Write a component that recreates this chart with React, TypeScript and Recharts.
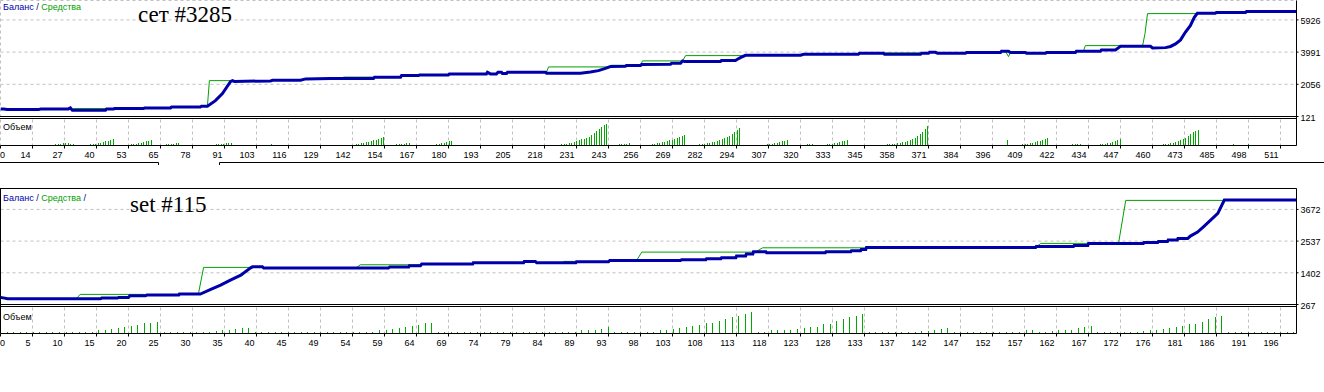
import { LineChart, Line, BarChart, Bar, XAxis, YAxis, CartesianGrid } from 'recharts';

// ---------- сет #3285 (top report) ----------
const topXLabels = ['0', '14', '27', '40', '53', '65', '78', '91', '103', '116', '129', '142', '154', '167', '180', '193', '205', '218', '231', '243', '256', '269', '282', '294', '307', '320', '333', '345', '358', '371', '384', '396', '409', '422', '434', '447', '460', '473', '485', '498', '511'];
const topYTicks = [121, 2056, 3991, 5926];

// [trade #, balance]
const topBalance: [number, number][] = [
  [0, 577], [1.2, 565], [2.8, 535], [15.2, 535], [16, 565], [27.1, 577], [27.9, 637], [28.7, 493],
  [41.9, 493], [42.3, 565], [45.1, 565], [45.5, 595], [57.1, 595], [57.5, 637], [67.9, 637], [68.3, 697],
  [79.8, 697], [80.2, 733], [82.6, 733], [85.8, 1076], [88.6, 1497], [91.8, 2218], [92.6, 2276], [93.4, 2230],
  [107.8, 2260], [108.6, 2296], [119.8, 2296], [121.8, 2380], [131.7, 2400], [148.9, 2400], [149.3, 2476],
  [159.7, 2476], [160.1, 2578], [166.9, 2578], [167.3, 2620], [178.8, 2620], [179.2, 2681], [194, 2681],
  [194.4, 2777], [195.6, 2681], [198, 2681], [198.6, 2777], [200, 2777], [200.4, 2699], [202, 2699],
  [202.4, 2777], [217.6, 2777], [218, 2717], [231.5, 2717], [235.5, 2790], [238.7, 2879], [241.5, 3017],
  [243.5, 3119], [249.5, 3137], [249.9, 3179], [255.5, 3179], [255.9, 3239], [267.5, 3257], [267.9, 3318],
  [271.5, 3318], [272.3, 3462], [273.1, 3420], [287.4, 3420], [287.8, 3480], [293.4, 3480], [294.2, 3558],
  [295.4, 3660], [297.4, 3799], [319.4, 3799], [320.6, 3859], [342.5, 3859], [342.9, 3919], [352.5, 3919],
  [352.9, 3859], [367.3, 3859], [367.7, 3919], [370.5, 3919], [370.9, 3979], [373.3, 3979], [374.1, 3919],
  [385.2, 3919], [385.6, 3961], [399.2, 3961], [399.6, 4039], [402.4, 4039], [403.2, 3961], [409.2, 3961],
  [409.6, 3919], [417.2, 3919], [417.6, 3961], [429.1, 3961], [429.5, 4039], [439.1, 4039], [439.5, 4123],
  [445.1, 4123], [445.9, 4201], [447.1, 4339], [459.1, 4339], [459.9, 4243], [465.1, 4260], [467.1, 4330],
  [469.1, 4483], [471.1, 4724], [473, 5181], [475, 5583], [476.6, 6082], [477.8, 6323], [485, 6323],
  [485.4, 6365], [497, 6365], [497.4, 6425], [517.4, 6425],
];

// equity, only where it leaves the balance line
const topEquity: [number, number][][] = [
  [[28.7, 493], [29.1, 595], [41.9, 595], [42.3, 565]],
  [[48.7, 595], [49.1, 655], [57.1, 655], [57.5, 637]],
  [[82.6, 733], [83.4, 2276], [92.6, 2276]],
  [[136.5, 2400], [136.9, 2490], [148.9, 2490], [149.3, 2476]],
  [[217.8, 2717], [218.8, 3101], [243, 3101]],
  [[243.5, 3119], [243.9, 3200], [249.5, 3200], [249.9, 3179]],
  [[255.5, 3179], [256.3, 3462], [272.3, 3462], [273.5, 3780], [296, 3780], [297, 3799]],
  [[352.5, 3919], [352.9, 3943], [367.3, 3943], [367.7, 3919]],
  [[401.2, 4039], [402.4, 3720], [403.2, 3961]],
  [[432.3, 4039], [433.1, 4381], [446.7, 4381], [447.1, 4339]],
  [[455.9, 4339], [456.9, 5100], [457.9, 6305], [477.8, 6305], [478.2, 6323]],
];

// [first trade #, volumes...]
const topVolume: [number, number[]][] = [
  [19, [1]],
  [22, [2, 2, 2, 3, 3, 3, 2, 2]],
  [33, [1, 1, 1, 2, 2, 2, 3, 3, 4, 5, 5, 6, 7]],
  [49, [1, 1, 1, 2, 2, 2, 3, 3, 4, 5, 5, 6]],
  [64, [1, 1, 2, 2, 2, 2, 3, 3]],
  [80, [1]], [82, [1]],
  [85, [1, 2, 2, 2, 2, 3, 3, 3]],
  [102, [1]], [107, [1, 2]], [110, [1]], [113, [1]], [116, [1]], [120, [1]],
  [140, [1, 1, 2, 2, 3, 3, 4, 4, 5, 6, 6, 7, 8, 9]],
  [156, [1, 1, 2, 2, 2, 2, 3, 3]],
  [166, [1]], [168, [1]],
  [170, [1, 1, 1, 1, 2, 2, 3, 3, 4, 5, 5]],
  [183, [1]], [185, [1]], [191, [1]], [195, [1]],
  [221, [1, 1, 1, 2, 2, 2, 3, 3, 4, 5, 6, 7, 7, 8, 9, 11, 13, 15, 17, 19, 21, 22]],
  [245, [1, 1, 2, 2, 2, 2, 3]],
  [258, [1, 1, 2, 2, 3, 3, 4, 4, 5, 6, 6, 7, 8, 9, 10, 11]],
  [276, [1, 1, 1, 2, 2, 2, 3, 3, 4, 4, 5, 6, 7, 8, 9, 10, 12, 14, 16, 18]],
  [298, [1, 1]],
  [303, [1, 1, 1, 2, 2, 2, 3, 3, 4, 5, 5, 6]],
  [319, [1, 1, 1, 2, 2, 2]],
  [327, [1, 1, 1, 2, 2, 2, 3, 3, 4, 5, 5, 6]],
  [345, [1]], [347, [1]],
  [350, [1, 1, 1, 1, 2, 2, 2, 2, 3, 3, 4, 4, 5, 6, 7, 8, 10, 12, 14, 17, 20]],
  [386, [1]], [388, [1]], [391, [1]], [396, [1]], [399, [1]], [402, [6]],
  [405, [1, 1, 1, 2, 2, 2, 3, 3, 4, 5, 5, 6, 7, 8]],
  [421, [1]], [423, [1]],
  [425, [1, 1, 1, 2, 2, 2, 2]],
  [435, [1, 1, 1, 1, 2, 2, 2, 3, 3, 4, 5, 6, 7]],
  [460, [1, 1, 1, 1, 2, 2, 2, 3, 3, 4, 5, 6, 7, 8, 10, 12, 14, 15, 16]],
  [481, [1]], [483, [1]],
  [488, [1, 1, 1, 1, 2, 1]],
  [497, [1, 2, 1]], [502, [1]], [506, [1]],
];

// ---------- set #115 (bottom report) ----------
const botXLabels = ['0', '5', '10', '15', '20', '25', '30', '35', '40', '45', '49', '54', '59', '64', '69', '74', '79', '84', '89', '93', '98', '103', '108', '113', '118', '123', '128', '133', '137', '142', '147', '152', '157', '162', '167', '172', '176', '181', '186', '191', '196'];
const botYTicks = [267, 1402, 2537, 3672];

const botBalance: [number, number][] = [
  [0, 522], [1.1, 472], [15.3, 472], [15.5, 497], [17.9, 497], [18.1, 522], [19.6, 522], [19.8, 579],
  [22.2, 579], [22.4, 604], [27.3, 604], [27.4, 640], [30.6, 640], [32.2, 808], [33.7, 962], [35.2, 1141],
  [36.8, 1320], [38.3, 1581], [38.6, 1617], [40.1, 1617], [40.3, 1571], [59.4, 1571], [59.6, 1606],
  [62.5, 1606], [62.6, 1653], [64.3, 1653], [64.5, 1714], [72.3, 1714], [72.4, 1760], [80.1, 1760],
  [80.2, 1810], [81.9, 1810], [82.1, 1760], [88.1, 1760], [88.2, 1796], [93.1, 1796], [93.3, 1846],
  [104.1, 1846], [104.3, 1868], [108, 1868], [108.1, 1904], [110.3, 1904], [110.4, 1939], [112.6, 1939],
  [112.7, 2000], [114.1, 2000], [114.2, 2072], [115.2, 2072], [115.3, 2154], [117.2, 2154], [117.3, 2118],
  [126.3, 2118], [126.4, 2154], [130.2, 2154], [130.3, 2190], [131.7, 2190], [131.8, 2240], [132.5, 2240],
  [132.6, 2312], [158.5, 2312], [158.6, 2347], [164.3, 2347], [164.4, 2383], [166.5, 2383], [166.6, 2455],
  [175, 2455], [175.1, 2491], [177.2, 2491], [177.3, 2526], [178.7, 2526], [178.8, 2573], [180.2, 2573],
  [180.3, 2634], [181.8, 2634], [182.2, 2716], [183.3, 2859], [184.2, 3049], [185.3, 3289], [186.4, 3529],
  [187.4, 4005], [198.5, 4005],
];

const botEquity: [number, number][][] = [
  [[11.6, 472], [12.2, 629], [21.9, 629], [22.4, 604]],
  [[30.3, 640], [31.1, 1596], [38.3, 1596]],
  [[54.4, 1571], [55.1, 1689], [64.3, 1689], [64.5, 1714]],
  [[86, 1760], [86.3, 1810], [88.1, 1810], [88.2, 1796]],
  [[97.4, 1846], [98.2, 2143], [115.6, 2143], [116.7, 2297], [132.5, 2297], [132.7, 2312]],
  [[158.5, 2312], [159.3, 2455], [166.5, 2455]],
  [[171.2, 2455], [172.3, 3994], [187.4, 3994]],
];

const botVolume: [number, number[]][] = [
  [1, [2, 2, 2, 2, 2, 2, 2, 2, 2, 2, 2, 2, 2, 2]],
  [15, [4, 4, 5, 6, 7, 8, 9, 11, 11, 12]],
  [25, [2, 2, 2, 2, 2, 2, 2, 2]],
  [33, [3, 4, 4, 5, 6, 6]],
  [39, [2, 2, 2, 2, 2, 2, 2, 2, 2, 2, 2, 2, 2, 2, 2, 2, 2, 2, 2]],
  [58, [4, 4, 5, 6, 7, 8, 9, 11, 11]],
  [67, [2, 2, 2, 2, 2, 2, 2, 2, 2, 2, 2, 2, 2, 2, 2, 2, 2, 2, 2, 2, 2, 2]],
  [89, [4, 4, 4, 5, 7]],
  [94, [2, 2, 2, 2, 2, 2, 2]],
  [101, [4, 4, 5, 6, 7, 8, 9, 11, 11, 13, 15, 17, 18, 20, 22]],
  [116, [2, 2]],
  [118, [4, 4, 4, 4, 5, 6, 7, 7, 10, 10, 13, 15, 17, 18, 20]],
  [133, [2, 2, 2, 2, 2, 2, 2, 2]],
  [141, [3, 3, 4, 5, 6]],
  [146, [2, 2, 2, 2, 2, 2, 2, 2, 2, 2, 2]],
  [157, [4, 4, 2, 2, 3, 4, 4, 4, 6, 7, 8]],
  [168, [2, 2, 2, 2, 2, 2, 2]],
  [175, [3, 4, 4, 5, 6, 7, 8, 10, 10, 12, 15, 17, 18]],
  [188, [2, 2, 2, 2, 2, 2, 2, 2, 2, 2, 2]],
];

const BALANCE = '#0000aa';
const EQUITY = '#00a000';
const VOLUME = '#00a800';
const GRID = '#c0c0c0';
const AXIS_FONT = '"Liberation Sans", Arial, sans-serif';

const toPoints = (pts: [number, number][]) => pts.map(([n, v]) => ({ n, v }));
const toSegments = (segs: [number, number][][]) =>
  segs.flatMap((s) => [...toPoints(s), { n: s[s.length - 1][0] + 0.01, v: null as number | null }]);
const toBars = (groups: [number, number[]][]) =>
  groups.flatMap(([start, hs]) => hs.map((v, k) => ({ n: start + k, v })));

interface PanelProps {
  top: number;
  labels: string[];
  step: number;
  yTicks: number[];
  yDomain: [number, number];
  balance: [number, number][];
  equity: [number, number][][];
  volume: [number, number[]][];
}

function VolBar(props: any) {
  const { x, y, width, height, fill } = props;
  if (!height || height <= 0) return null;
  const px = Math.floor(x + width / 2);
  return <rect x={px} y={y} width={1} height={height} fill={fill} shapeRendering="crispEdges" />;
}

function Panel({ top, labels, step, yTicks, yDomain, balance, equity, volume }: PanelProps) {
  const xMax = step * 40.5;
  const ticks = labels.map((_, i) => i * step);
  const balanceData = toPoints(balance);
  const equityData = toSegments(equity);
  const volumeData = toBars(volume);

  const xTick = (p: any) => {
    const i = Math.round(p.payload.value / step);
    const first = i === 0;
    return (
      <text
        x={first ? 0 : p.x - 2}
        y={p.y + 7}
        textAnchor={first ? 'start' : 'end'}
        fontFamily={AXIS_FONT}
        fontSize={9}
        fill="#000"
      >
        {labels[i]}
      </text>
    );
  };

  const yTick = (p: any) => (
    <text x={p.x} y={p.y + 4} textAnchor="start" fontFamily={AXIS_FONT} fontSize={9} fill="#000">
      {p.payload.value}
    </text>
  );

  return (
    <>
      <div style={{ position: 'absolute', left: 0, top }}>
        <LineChart width={1324} height={127} margin={{ top: 0.5, right: 0, bottom: 10.5, left: 0.5 }}>
          <CartesianGrid stroke={GRID} strokeDasharray="3 3" />
          <XAxis
            type="number"
            dataKey="n"
            domain={[0, xMax]}
            ticks={ticks}
            interval={0}
            allowDataOverflow
            height={0}
            tick={false}
            axisLine={false}
            tickLine={false}
          />
          <YAxis
            orientation="right"
            width={27.5}
            domain={yDomain}
            ticks={yTicks}
            interval={0}
            allowDataOverflow
            axisLine={{ stroke: '#000' }}
            tickLine={{ stroke: '#000' }}
            tickSize={2}
            tick={yTick}
          />
          <Line
            data={equityData}
            dataKey="v"
            type="linear"
            stroke={EQUITY}
            strokeWidth={1}
            dot={false}
            connectNulls={false}
            isAnimationActive={false}
          />
          <Line
            data={balanceData}
            dataKey="v"
            type="linear"
            stroke={BALANCE}
            strokeWidth={3}
            dot={false}
            isAnimationActive={false}
          />
        </LineChart>
      </div>
      <div style={{ position: 'absolute', left: 0, top: top + 119 }}>
        <BarChart
          width={1324}
          height={43}
          data={volumeData}
          margin={{ top: 0.5, right: 0, bottom: 0.5, left: 0.5 }}
        >
          <CartesianGrid stroke={GRID} strokeDasharray="3 3" horizontal={false} />
          <XAxis
            type="number"
            dataKey="n"
            domain={[0, xMax]}
            ticks={ticks}
            interval={0}
            allowDataOverflow
            height={16}
            axisLine={{ stroke: '#000' }}
            tickLine={{ stroke: '#000' }}
            tickSize={3}
            tick={xTick}
          />
          <YAxis
            orientation="right"
            width={27.5}
            domain={[0, 26]}
            allowDataOverflow
            tick={false}
            tickLine={false}
            axisLine={{ stroke: '#000' }}
          />
          <Bar dataKey="v" fill={VOLUME} barSize={1} shape={<VolBar />} isAnimationActive={false} />
        </BarChart>
      </div>
    </>
  );
}

export default function App() {
  const legendFont = { fontFamily: AXIS_FONT, fontSize: 9 };
  return (
    <div style={{ position: 'absolute', left: 0, top: 0, width: 1324, height: 392, background: '#fff', overflow: 'hidden' }}>
      <Panel
        top={0}
        labels={topXLabels}
        step={12.775}
        yTicks={topYTicks}
        yDomain={[121, 7092]}
        balance={topBalance}
        equity={topEquity}
        volume={topVolume}
      />
      <Panel
        top={188}
        labels={botXLabels}
        step={4.9}
        yTicks={botYTicks}
        yDomain={[267, 4420]}
        balance={botBalance}
        equity={botEquity}
        volume={botVolume}
      />
      <svg width={1324} height={392} style={{ position: 'absolute', left: 0, top: 0, pointerEvents: 'none' }}>
        {/* top report frame */}
        <line x1={0} x2={1296.5} y1={116.5} y2={116.5} stroke="#000" />
        <line x1={0} x2={1296.5} y1={118.5} y2={118.5} stroke="#000" />
        <line x1={1296.5} x2={1296.5} y1={116} y2={120} stroke="#000" />
        <path d="M0,162.5 H158.5 V165" fill="none" stroke="#000" />
        <path d="M219.5,165 V162.5 H1324" fill="none" stroke="#000" />
        {/* bottom report frame */}
        <line x1={0} x2={1296.5} y1={188.5} y2={188.5} stroke="#000" />
        <line x1={0.5} x2={0.5} y1={188.5} y2={333.5} stroke="#000" />
        <line x1={0} x2={1296.5} y1={304.5} y2={304.5} stroke="#000" />
        <line x1={0} x2={1296.5} y1={306.5} y2={306.5} stroke="#000" />
        <line x1={1296.5} x2={1296.5} y1={304} y2={308} stroke="#000" />

        <text x={3} y={10} {...legendFont}>
          <tspan fill={BALANCE}>Баланс</tspan>
          <tspan fill="#000080"> / </tspan>
          <tspan fill={EQUITY}>Средства</tspan>
        </text>
        <text x={3} y={130} {...legendFont} fill="#000">Объем</text>
        <text x={138} y={22} fontFamily='"Liberation Serif", "Times New Roman", serif' fontSize={23} fill="#000">
          сет #3285
        </text>

        <text x={3} y={200.5} {...legendFont}>
          <tspan fill={BALANCE}>Баланс</tspan>
          <tspan fill="#000080"> / </tspan>
          <tspan fill={EQUITY}>Средства</tspan>
          <tspan fill="#000080"> /</tspan>
        </text>
        <text x={3} y={319.5} {...legendFont} fill="#000">Объем</text>
        <text x={130} y={212} fontFamily='"Liberation Serif", "Times New Roman", serif' fontSize={23} fill="#000">
          set #115
        </text>
      </svg>
    </div>
  );
}
